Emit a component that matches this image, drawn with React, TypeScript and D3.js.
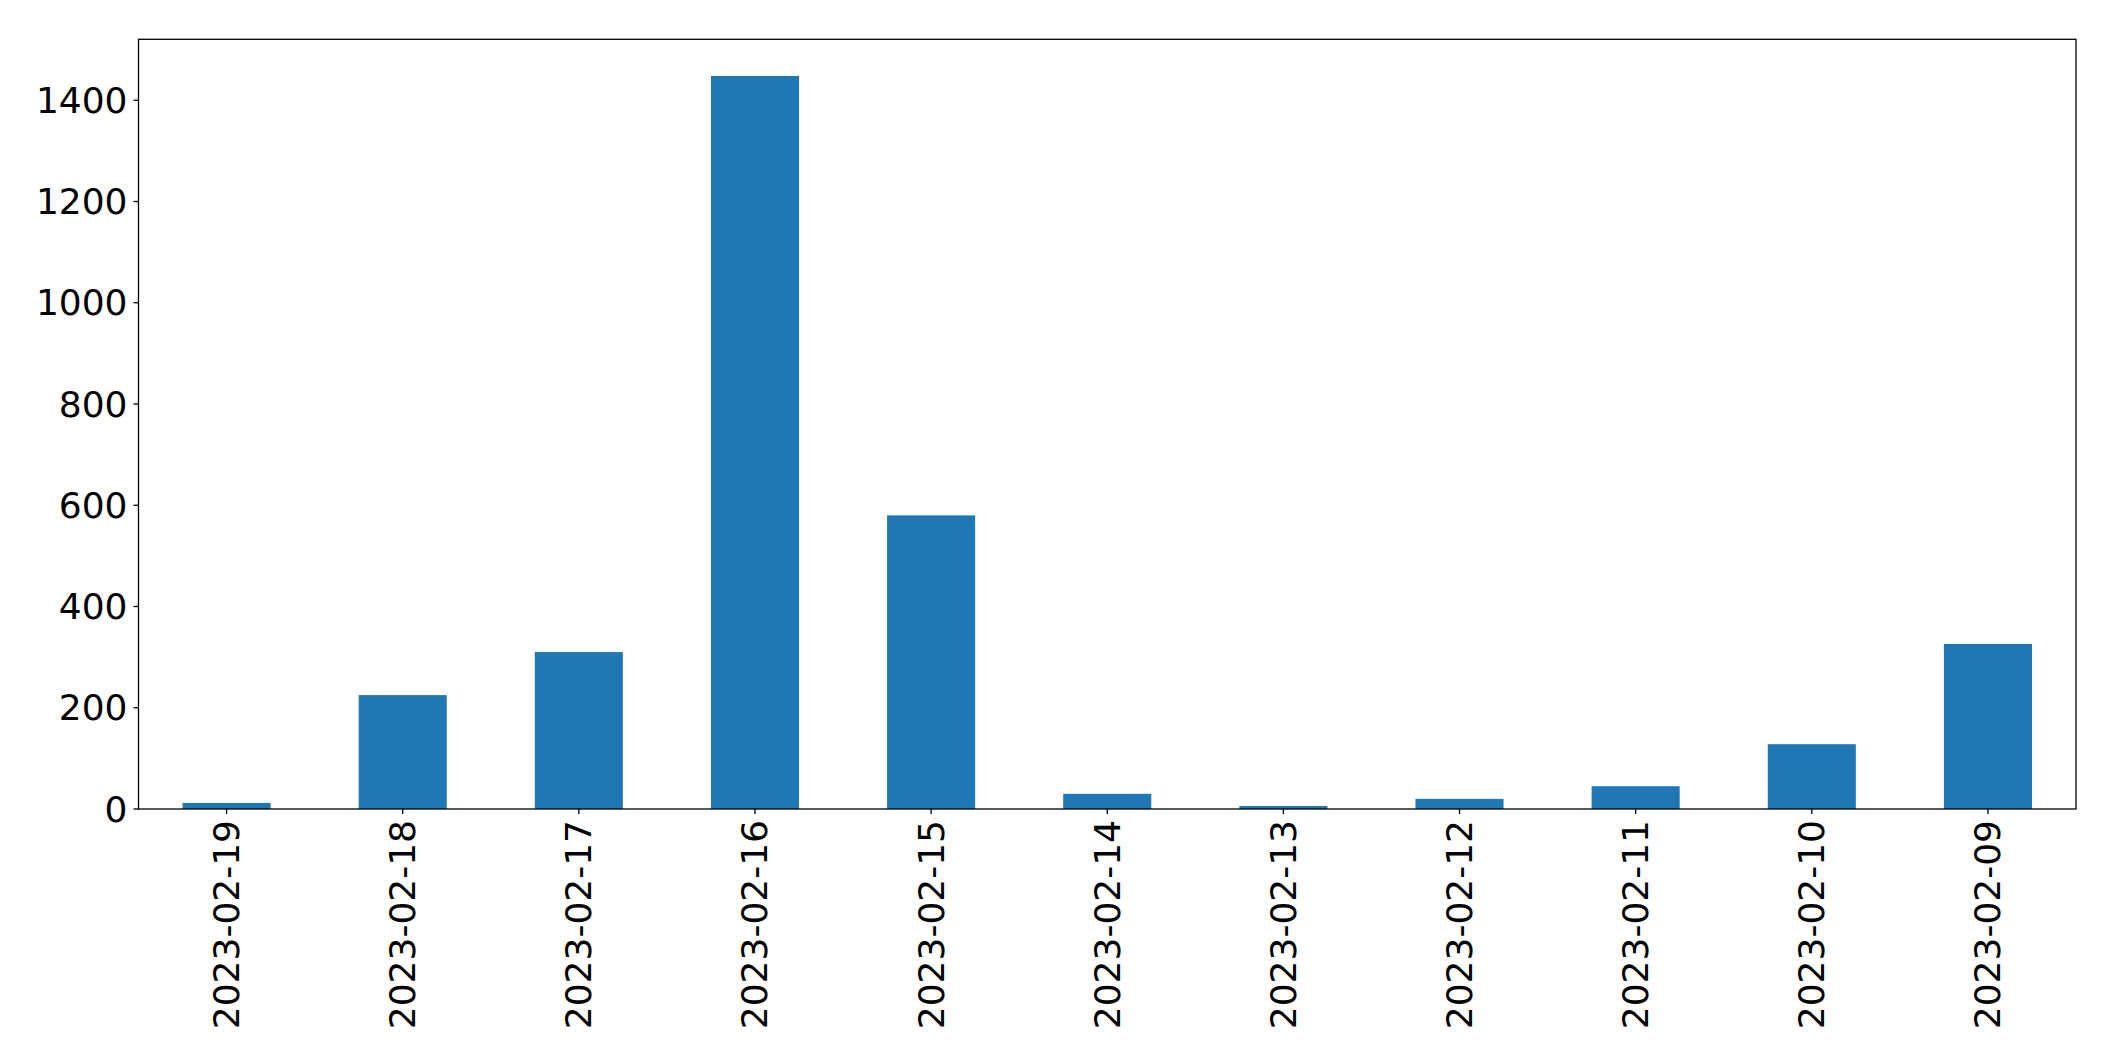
import React from "react";
import * as d3 from "d3";

const categories = [
  "2023-02-19", "2023-02-18", "2023-02-17", "2023-02-16", "2023-02-15", "2023-02-14",
  "2023-02-13", "2023-02-12", "2023-02-11", "2023-02-10", "2023-02-09",
];
const values = [12, 225, 310, 1448, 580, 30, 6, 20, 45, 128, 326];
const yTicks = [0, 200, 400, 600, 800, 1000, 1200, 1400];

const W = 2115;
const H = 1061;
const M = { left: 138.5, right: 2076, top: 39.3, bottom: 809 };
const FONT = "DejaVu Sans, sans-serif";

export default function App() {
  const x = d3
    .scaleBand<string>()
    .domain(categories)
    .range([M.left, M.right])
    .paddingInner(0.5)
    .paddingOuter(0.25);
  const yMax = (d3.max(values) as number) * 1.05;
  const y = d3.scaleLinear().domain([0, yMax]).range([M.bottom, M.top]);

  return (
    <>
      <style>{`body{margin:0;}`}</style>
      <svg width={W} height={H} style={{ display: "block", background: "#fff" }}>
        {categories.map((c, i) => (
          <rect
            key={c}
            x={x(c)}
            y={y(values[i])}
            width={x.bandwidth()}
            height={y(0) - y(values[i])}
            fill="#1f77b4"
          />
        ))}
        <rect
          x={M.left}
          y={M.top}
          width={M.right - M.left}
          height={M.bottom - M.top}
          fill="none"
          stroke="#000"
          strokeWidth={1.3}
        />
        {yTicks.map((t) => (
          <g key={t}>
            <line x1={M.left - 5} x2={M.left} y1={y(t)} y2={y(t)} stroke="#000" strokeWidth={1.3} />
            <text
              x={M.left - 11}
              y={y(t)}
              textAnchor="end"
              dominantBaseline="central"
              fontFamily={FONT}
              fontSize={36}
              fill="#000"
            >
              {t}
            </text>
          </g>
        ))}
        {categories.map((c) => {
          const cx = (x(c) as number) + x.bandwidth() / 2;
          return (
            <g key={c}>
              <line x1={cx} x2={cx} y1={M.bottom} y2={M.bottom + 5} stroke="#000" strokeWidth={1.3} />
              <text
                transform={`translate(${cx},${M.bottom + 11}) rotate(-90)`}
                textAnchor="end"
                dominantBaseline="central"
                fontFamily={FONT}
                fontSize={36}
                fill="#000"
              >
                {c}
              </text>
            </g>
          );
        })}
      </svg>
    </>
  );
}
